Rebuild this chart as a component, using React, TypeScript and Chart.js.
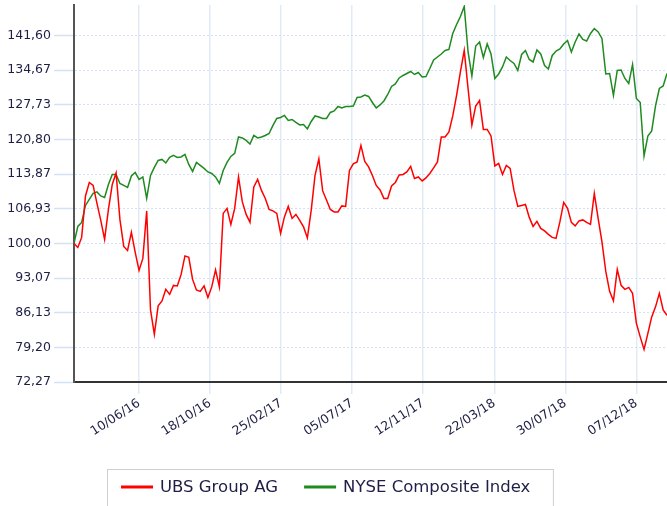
import React, { useEffect, useRef } from 'react';
import { Chart, registerables } from 'chart.js';

Chart.register(...registerables);

// ---- data ----
const seriesNames = ['UBS Group AG', 'NYSE Composite Index'];
const seriesColors = ['#ff0000', '#1f8a1f'];
const startDate = [2016, 2, 12]; // first weekly observation (y, m, d)
const xTickLabels = ['10/06/16', '18/10/16', '25/02/17', '05/07/17', '12/11/17', '22/03/18', '30/07/18', '07/12/18'];
const yTicks = [72.27, 79.2, 86.13, 93.07, 100.0, 106.93, 113.87, 120.8, 127.73, 134.67, 141.6];
const yMin = 72.27;
const yMax = 147.7;

const ubsValues = [
  100, 99.2, 101.2, 109.5, 112.2, 111.6, 108, 104.6, 100.8, 106.8,
  111.8, 114.1, 104.8, 99.4, 98.6, 102.2, 98.2, 94.6, 97, 106.5,
  86.7, 81.8, 87.5, 88.5, 90.8, 89.8, 91.6, 91.5, 93.8, 97.5,
  97.2, 92.8, 90.7, 90.4, 91.5, 89.2, 91.3, 94.7, 91.3, 106,
  107, 103.8, 107, 113.3, 108.3, 105.8, 104.2, 111.3, 112.8, 110.6,
  109, 106.8, 106.5, 106, 102, 105.3, 107.4, 105, 105.8, 104.6,
  103.3, 101.1, 106.6, 113.6, 116.9, 110.5, 108.7, 106.8, 106.3, 106.3,
  107.5, 107.4, 114.6, 115.9, 116.3, 119.6, 116.4, 115.3, 113.6, 111.6,
  110.7, 109, 109, 111.5, 112.2, 113.7, 113.8, 114.3, 115.4, 113,
  113.3, 112.5, 113.1, 114, 115.1, 116.3, 121.3, 121.3, 122.3, 125.5,
  129.6, 134.3, 138.6, 131, 123.7, 127.5, 128.6, 122.8, 122.8, 121.5,
  115.5, 116, 113.8, 115.6, 115, 110.6, 107.4, 107.6, 107.8, 105.2,
  103.4, 104.4, 103, 102.5, 101.8, 101.2, 101, 104.3, 108.2, 107,
  104.2, 103.5, 104.5, 104.7, 104.2, 103.8, 110, 105, 100.3, 94.4,
  90.4, 88.5, 94.8, 91.6, 90.8, 91.2, 90, 84, 81.3, 78.8,
  82, 85.3, 87.3, 90, 86.7, 85.6,
];

const nyseValues = [
  100, 103.4, 104.2, 107.6, 108.8, 110, 110.3, 109.5, 109.2, 111.8,
  113.8, 113.8, 112, 111.6, 111.2, 113.5, 114.2, 112.8, 113.3, 109,
  113.6, 115.2, 116.6, 116.8, 116.1, 117.2, 117.6, 117.2, 117.3, 117.8,
  115.8, 114.4, 116.2, 115.6, 115, 114.3, 114, 113.3, 112, 114.6,
  116.2, 117.4, 118, 121.3, 121.1, 120.6, 119.9, 121.6, 121.1, 121.3,
  121.6, 122, 123.6, 125, 125.2, 125.6, 124.6, 124.8, 124.2, 123.7,
  123.8, 122.9, 124.4, 125.5, 125.3, 125, 125, 126.2, 126.5, 127.4,
  127.1, 127.4, 127.4, 127.5, 129.2, 129.3, 129.7, 129.4, 128.2, 127.1,
  127.7, 128.5, 129.8, 131.4, 131.9, 133.1, 133.6, 134, 134.4, 133.8,
  134.2, 133.3, 133.4, 135, 136.7, 137.3, 137.9, 138.6, 138.8, 142,
  143.8, 145.4, 147.4, 138.3, 133.5, 139.5, 140.3, 137.2, 139.9, 137.9,
  133, 133.9, 135.3, 137.3, 136.6, 136, 134.6, 137.8, 138.6, 136.8,
  136.3, 138.7, 137.9, 135.6, 134.9, 137.6, 138.5, 138.9, 139.9, 140.6,
  138.3, 140.3, 141.9, 140.8, 140.5, 142, 143, 142.3, 141, 133.9,
  134, 129.6, 134.6, 134.7, 133, 132, 135.8, 129, 128.2, 117.5,
  121.5, 122.5, 127.5, 131, 131.5, 134,
];

// ---- helpers ----
const DAY = 86400000;
const START = Date.UTC(startDate[0], startDate[1] - 1, startDate[2]);
const labelToDay = (s: string) => {
  const [d, m, y] = s.split('/').map(Number);
  return Math.round((Date.UTC(2000 + y, m - 1, d) - START) / DAY);
};
const dayToLabel = (v: number) => {
  const dt = new Date(START + v * DAY);
  const p = (n: number) => String(n).padStart(2, '0');
  return `${p(dt.getUTCDate())}/${p(dt.getUTCMonth() + 1)}/${p(dt.getUTCFullYear() % 100)}`;
};
const weekDays = ubsValues.map((_, i) => i * 7);

const TEXT = '#1e1e46';
const FONT = '"DejaVu Sans", Verdana, sans-serif';

const boxLegend = {
  id: 'boxLegend',
  afterDraw(chart: any) {
    const ctx = chart.ctx as CanvasRenderingContext2D;
    ctx.save();
    ctx.font = `16.5px ${FONT}`;
    ctx.textBaseline = 'middle';
    const y = 487;
    const startX = 121;
    let x = startX;
    chart.data.datasets.forEach((ds: any, i: number) => {
      ctx.strokeStyle = ds.borderColor;
      ctx.lineWidth = 3;
      ctx.beginPath();
      ctx.moveTo(x, y);
      ctx.lineTo(x + 32, y);
      ctx.stroke();
      x += 39;
      ctx.fillStyle = TEXT;
      ctx.fillText(ds.label, x, y + 1);
      x += ctx.measureText(ds.label).width;
      if (i < chart.data.datasets.length - 1) x += 26;
    });
    ctx.strokeStyle = '#cfcfcf';
    ctx.lineWidth = 1;
    ctx.strokeRect(startX - 13.5, 469.5, x - startX + 13.5 + 23, 50);
    ctx.restore();
  },
};

export default function App() {
  const ref = useRef<HTMLCanvasElement>(null);

  useEffect(() => {
    if (!ref.current) return;
    const chart = new Chart(ref.current, {
      type: 'line',
      data: {
        datasets: [
          {
            label: seriesNames[0],
            data: ubsValues.map((v, i) => ({ x: weekDays[i], y: v })),
            borderColor: seriesColors[0],
            backgroundColor: seriesColors[0],
            borderWidth: 1.5,
            pointRadius: 0,
            tension: 0,
          },
          {
            label: seriesNames[1],
            data: nyseValues.map((v, i) => ({ x: weekDays[i], y: v })),
            borderColor: seriesColors[1],
            backgroundColor: seriesColors[1],
            borderWidth: 1.5,
            pointRadius: 0,
            tension: 0,
          },
        ],
      },
      options: {
        responsive: false,
        animation: false,
        layout: { padding: { top: 5, bottom: 37, left: 0, right: 0 } },
        plugins: { legend: { display: false }, tooltip: { enabled: false } },
        scales: {
          x: {
            type: 'linear',
            min: 0,
            max: weekDays[weekDays.length - 1],
            afterBuildTicks: (s: any) => {
              s.ticks = xTickLabels.map((l) => ({ value: labelToDay(l) }));
            },
            afterFit: (s: any) => {
              s.height = 87;
              s.paddingLeft = 0;
              s.paddingRight = 0;
            },
            ticks: {
              autoSkip: false,
              minRotation: 33,
              maxRotation: 33,
              padding: 2,
              color: TEXT,
              font: { family: FONT, size: 12.5 },
              callback: (v: any) => dayToLabel(Number(v)),
            },
            grid: { color: '#e1ebf7', lineWidth: 1.5, tickLength: 12, tickColor: '#e1ebf7' },
            border: { color: '#333333', width: 2 },
          },
          y: {
            type: 'linear',
            min: yMin,
            max: yMax,
            afterBuildTicks: (s: any) => {
              s.ticks = yTicks.map((v) => ({ value: v }));
            },
            afterFit: (s: any) => {
              s.width = 74;
              s.paddingTop = 0;
              s.paddingBottom = 0;
            },
            ticks: {
              autoSkip: false,
              padding: 3,
              color: TEXT,
              font: { family: FONT, size: 12.5 },
              callback: (v: any) => Number(v).toFixed(2).replace('.', ','),
            },
            grid: {
              color: '#d3e2f4',
              lineWidth: 1,
              tickLength: 20,
              tickColor: '#d3e2f4',
              tickWidth: 1.5,
              tickBorderDash: [],
            },
            border: { color: '#555555', width: 2, dash: [2, 2] },
          },
        },
      },
      plugins: [boxLegend],
    } as any);
    return () => chart.destroy();
  }, []);

  return (
    <div style={{ position: 'absolute', left: 0, top: 0, width: 667, height: 506, background: '#fff' }}>
      <canvas ref={ref} width={667} height={506} style={{ display: 'block' }} />
    </div>
  );
}
